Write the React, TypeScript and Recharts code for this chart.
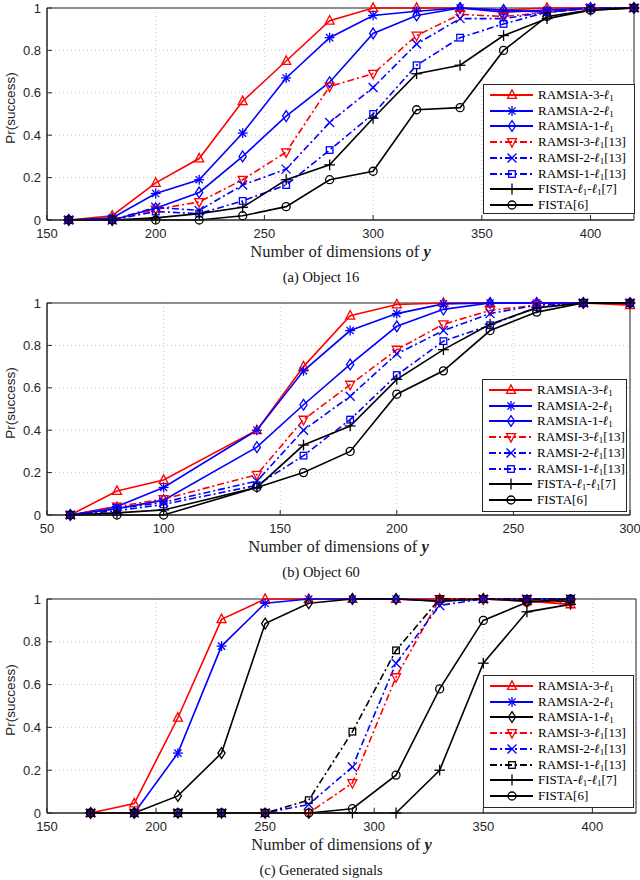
import React from 'react';
import { LineChart, Line, XAxis, YAxis, CartesianGrid, ReferenceArea } from 'recharts';

// ---- (a) Object 16 ----
const obj16Dims = [160, 180, 200, 220, 240, 260, 280, 300, 320, 340, 360, 380, 400, 420];
const obj16Ramsia3 = [0, 0.02, 0.175, 0.29, 0.56, 0.75, 0.94, 1, 1, 1, 0.99, 1, 1, 1];
const obj16Ramsia2 = [0, 0.01, 0.125, 0.19, 0.41, 0.67, 0.86, 0.965, 0.985, 1, 0.98, 0.99, 1, 1];
const obj16Ramsia1 = [0, 0, 0.055, 0.13, 0.3, 0.49, 0.65, 0.88, 0.965, 1, 0.99, 0.98, 1, 1];
const obj16Ramsi3 = [0, 0, 0.05, 0.085, 0.19, 0.32, 0.63, 0.69, 0.87, 0.97, 0.96, 0.98, 1, 1];
const obj16Ramsi2 = [0, 0, 0.06, 0.045, 0.165, 0.24, 0.46, 0.625, 0.83, 0.95, 0.95, 0.98, 1, 1];
const obj16Ramsi1 = [0, 0, 0.04, 0.03, 0.09, 0.165, 0.33, 0.5, 0.73, 0.86, 0.925, 0.98, 1, 1];
const obj16FistaL1 = [0, 0, 0.01, 0.03, 0.06, 0.19, 0.26, 0.48, 0.69, 0.73, 0.87, 0.95, 0.99, 1];
const obj16Fista = [0, 0, 0, 0, 0.02, 0.063, 0.19, 0.23, 0.52, 0.53, 0.8, 0.96, 0.99, 1];

// ---- (b) Object 60 ----
const obj60Dims = [60, 80, 100, 140, 160, 180, 200, 220, 240, 260, 280, 300];
const obj60Ramsia3 = [0, 0.113, 0.165, 0.4, 0.7, 0.94, 0.993, 1, 1, 1, 1, 0.99];
const obj60Ramsia2 = [0, 0.04, 0.13, 0.4, 0.68, 0.87, 0.95, 0.996, 1, 1, 1, 1];
const obj60Ramsia1 = [0, 0.03, 0.07, 0.32, 0.52, 0.71, 0.89, 0.97, 1, 1, 1, 1];
const obj60Ramsi3 = [0, 0.04, 0.075, 0.19, 0.45, 0.615, 0.78, 0.9, 0.965, 0.99, 1, 1];
const obj60Ramsi2 = [0, 0.03, 0.06, 0.16, 0.4, 0.56, 0.76, 0.87, 0.95, 0.99, 1, 1];
const obj60Ramsi1 = [0, 0.02, 0.05, 0.14, 0.28, 0.45, 0.66, 0.82, 0.895, 0.98, 1, 1];
const obj60FistaL1 = [0, 0.01, 0.024, 0.13, 0.33, 0.42, 0.64, 0.78, 0.9, 0.977, 1, 1];
const obj60Fista = [0, 0, 0, 0.13, 0.2, 0.3, 0.57, 0.68, 0.87, 0.957, 1, 1];

// ---- (c) Generated signals ----
const genDims = [170, 190, 210, 230, 250, 270, 290, 310, 330, 350, 370, 390];
const genRamsia3 = [0, 0.044, 0.445, 0.905, 1, 1, 1, 1, 1, 1, 0.99, 0.975];
const genRamsia2 = [0, 0, 0.28, 0.78, 0.98, 1, 1, 1, 0.99, 1, 1, 1];
const genRamsia1 = [0, 0, 0.08, 0.28, 0.885, 0.98, 1, 1, 0.99, 1, 0.99, 0.99];
const genRamsi3 = [0, 0, 0, 0, 0, 0, 0.14, 0.635, 1, 1, 1, 0.98];
const genRamsi2 = [0, 0, 0, 0, 0, 0.04, 0.215, 0.7, 0.97, 1, 1, 1];
const genRamsi1 = [0, 0, 0, 0, 0, 0.06, 0.38, 0.76, 1, 1, 1, 1];
const genFistaL1 = [0, 0, 0, 0, 0, 0, 0, 0, 0.2, 0.7, 0.94, 0.975];
const genFista = [0, 0, 0, 0, 0, 0, 0.02, 0.177, 0.58, 0.9, 0.985, 1];

const xTicksA = [150, 200, 250, 300, 350, 400];
const xTicksB = [50, 100, 150, 200, 250, 300];
const yTicks = [0, 0.2, 0.4, 0.6, 0.8, 1];

const RED = '#ff0000';
const BLUE = '#0000ff';
const BLACK = '#000000';
const AXIS = '#262626';
const DASHDOT = '7 3 2 3';

type Kind = 'tri' | 'star' | 'diamond' | 'down' | 'x' | 'square' | 'plus' | 'circle';

interface Series {
  name: string;
  values: number[];
  color: string;
  dashed: boolean;
  marker: Kind;
}

const seriesFor = (v: number[][], ramsia1Color: string, ramsi1Color: string): Series[] => [
  { name: 'RAMSIA-3-ℓ1', values: v[0], color: RED, dashed: false, marker: 'tri' },
  { name: 'RAMSIA-2-ℓ1', values: v[1], color: BLUE, dashed: false, marker: 'star' },
  { name: 'RAMSIA-1-ℓ1', values: v[2], color: ramsia1Color, dashed: false, marker: 'diamond' },
  { name: 'RAMSI-3-ℓ1[13]', values: v[3], color: RED, dashed: true, marker: 'down' },
  { name: 'RAMSI-2-ℓ1[13]', values: v[4], color: BLUE, dashed: true, marker: 'x' },
  { name: 'RAMSI-1-ℓ1[13]', values: v[5], color: ramsi1Color, dashed: true, marker: 'square' },
  { name: 'FISTA-ℓ1-ℓ1[7]', values: v[6], color: BLACK, dashed: false, marker: 'plus' },
  { name: 'FISTA[6]', values: v[7], color: BLACK, dashed: false, marker: 'circle' },
];

const seriesA = seriesFor(
  [obj16Ramsia3, obj16Ramsia2, obj16Ramsia1, obj16Ramsi3, obj16Ramsi2, obj16Ramsi1, obj16FistaL1, obj16Fista],
  BLUE,
  BLUE,
);
const seriesB = seriesFor(
  [obj60Ramsia3, obj60Ramsia2, obj60Ramsia1, obj60Ramsi3, obj60Ramsi2, obj60Ramsi1, obj60FistaL1, obj60Fista],
  BLUE,
  BLUE,
);
const seriesC = seriesFor(
  [genRamsia3, genRamsia2, genRamsia1, genRamsi3, genRamsi2, genRamsi1, genFistaL1, genFista],
  BLACK,
  BLACK,
);

const Marker = ({ kind, cx, cy, color }: { kind: Kind; cx: number; cy: number; color: string }) => {
  const s = 4.5;
  const common = { fill: 'none', stroke: color, strokeWidth: 1.3 };
  switch (kind) {
    case 'tri':
      return <polygon {...common} points={`${cx},${cy - s * 1.15} ${cx - s},${cy + s * 0.75} ${cx + s},${cy + s * 0.75}`} />;
    case 'down':
      return <polygon {...common} points={`${cx},${cy + s * 1.15} ${cx - s},${cy - s * 0.75} ${cx + s},${cy - s * 0.75}`} />;
    case 'diamond':
      return <polygon {...common} points={`${cx},${cy - s * 1.2} ${cx + s * 0.8},${cy} ${cx},${cy + s * 1.2} ${cx - s * 0.8},${cy}`} />;
    case 'square':
      return <rect {...common} x={cx - 3.3} y={cy - 3.3} width={6.6} height={6.6} />;
    case 'circle':
      return <circle {...common} cx={cx} cy={cy} r={4} />;
    case 'x':
      return (
        <g {...common}>
          <line x1={cx - s} y1={cy - s} x2={cx + s} y2={cy + s} />
          <line x1={cx - s} y1={cy + s} x2={cx + s} y2={cy - s} />
        </g>
      );
    case 'plus':
      return (
        <g {...common}>
          <line x1={cx - s * 1.2} y1={cy} x2={cx + s * 1.2} y2={cy} />
          <line x1={cx} y1={cy - s * 1.2} x2={cx} y2={cy + s * 1.2} />
        </g>
      );
    case 'star':
    default:
      return (
        <g {...common}>
          <line x1={cx - s * 1.1} y1={cy} x2={cx + s * 1.1} y2={cy} />
          <line x1={cx} y1={cy - s * 1.1} x2={cx} y2={cy + s * 1.1} />
          <line x1={cx - s * 0.8} y1={cy - s * 0.8} x2={cx + s * 0.8} y2={cy + s * 0.8} />
          <line x1={cx - s * 0.8} y1={cy + s * 0.8} x2={cx + s * 0.8} y2={cy - s * 0.8} />
        </g>
      );
  }
};

const Label = ({ text }: { text: string }) => {
  const parts = text.split('ℓ1');
  return (
    <span>
      {parts.map((p, i) => (
        <React.Fragment key={i}>
          {p}
          {i < parts.length - 1 && (
            <span>
              <i>ℓ</i>
              <sub style={{ fontSize: 9, verticalAlign: -2 }}>1</sub>
            </span>
          )}
        </React.Fragment>
      ))}
    </span>
  );
};

const LegendBox = ({ series, left, top, width, height }: { series: Series[]; left: number; top: number; width: number; height: number }) => (
  <div
    style={{
      position: 'absolute',
      left,
      top,
      width,
      height,
      boxSizing: 'border-box',
      border: `1px solid ${AXIS}`,
      background: '#fff',
      padding: '2px 0',
      fontFamily: '"Liberation Serif", serif',
      fontSize: 13,
      color: '#000',
    }}
  >
    {series.map((s) => (
      <div key={s.name} style={{ height: 15.75, display: 'flex', alignItems: 'center', whiteSpace: 'nowrap' }}>
        <svg width={54} height={14} style={{ flex: 'none' }}>
          <line x1={6} y1={7} x2={49} y2={7} stroke={s.color} strokeWidth={1.8} strokeDasharray={s.dashed ? DASHDOT : undefined} />
          <Marker kind={s.marker} cx={28} cy={7} color={s.color} />
        </svg>
        <Label text={s.name} />
      </div>
    ))}
  </div>
);

interface PanelProps {
  top: number;
  plotHeight: number;
  marginRight: number;
  dims: number[];
  series: Series[];
  xDomain: [number, number];
  xTicks: number[];
  caption: string;
  legend: { left: number; top: number; width: number; height: number };
}

const Panel = ({ top, plotHeight, marginRight, dims, series, xDomain, xTicks, caption, legend }: PanelProps) => {
  const rows = dims.map((d, i) => {
    const row: Record<string, number> = { x: d };
    series.forEach((s, k) => {
      row[`s${k}`] = s.values[i];
    });
    return row;
  });
  const chartH = 8 + plotHeight + 30;
  const plotBottom = top + 8 + plotHeight;
  const plotLeft = 47;
  const plotRight = 640 - marginRight;
  const midX = (plotLeft + plotRight) / 2;
  return (
    <>
      <div style={{ position: 'absolute', left: 0, top }}>
        <LineChart width={640} height={chartH} data={rows} margin={{ top: 8, right: marginRight, left: 0, bottom: 0 }}>
          <CartesianGrid stroke="#c8c8c8" strokeDasharray="1 3" />
          <XAxis
            dataKey="x"
            type="number"
            domain={xDomain}
            ticks={xTicks}
            interval={0}
            height={30}
            stroke={AXIS}
            tickSize={-5}
            tickMargin={14}
            tick={{ fontSize: 13, fill: AXIS, fontFamily: '"Liberation Sans", sans-serif' }}
          />
          <YAxis
            type="number"
            domain={[0, 1]}
            ticks={yTicks}
            interval={0}
            width={47}
            stroke={AXIS}
            tickSize={-5}
            tickMargin={11}
            tick={{ fontSize: 13, fill: AXIS, fontFamily: '"Liberation Sans", sans-serif' }}
          />
          <ReferenceArea x1={xDomain[0]} x2={xDomain[1]} y1={0} y2={1} fill="none" stroke={AXIS} strokeWidth={1} ifOverflow="visible" />
          {series.map((s, k) => (
            <Line
              key={s.name}
              dataKey={`s${k}`}
              stroke={s.color}
              strokeWidth={1.6}
              strokeDasharray={s.dashed ? DASHDOT : undefined}
              isAnimationActive={false}
              dot={(p: any) => <Marker key={`${k}-${p.index}`} kind={s.marker} cx={p.cx} cy={p.cy} color={s.color} />}
              activeDot={false}
            />
          ))}
        </LineChart>
      </div>
      <div
        style={{
          position: 'absolute',
          left: 10,
          top: top + 8 + plotHeight / 2 - 6,
          transform: 'translate(-50%, -50%) rotate(-90deg)',
          fontFamily: '"Liberation Sans", sans-serif',
          fontSize: 13.5,
          color: AXIS,
          whiteSpace: 'nowrap',
        }}
      >
        Pr(success)
      </div>
      <div
        style={{
          position: 'absolute',
          left: midX,
          top: plotBottom + 32,
          transform: 'translate(-50%, -50%)',
          fontFamily: '"Liberation Serif", serif',
          fontSize: 16.5,
          color: '#222',
          whiteSpace: 'nowrap',
        }}
      >
        Number of dimensions of <b><i>y</i></b>
      </div>
      <div
        style={{
          position: 'absolute',
          left: 321,
          top: plotBottom + 57,
          transform: 'translate(-50%, -50%)',
          fontFamily: '"Liberation Serif", serif',
          fontSize: 14.5,
          color: '#111',
          whiteSpace: 'nowrap',
        }}
      >
        {caption}
      </div>
      <LegendBox series={series} {...legend} />
    </>
  );
};

export default function App() {
  return (
    <div style={{ position: 'absolute', left: 0, top: 0, width: 640, height: 880, background: '#fff', overflow: 'hidden' }}>
      <Panel
        top={0}
        plotHeight={212}
        marginRight={6}
        dims={obj16Dims}
        series={seriesA}
        xDomain={[150, 420]}
        xTicks={xTicksA}
        caption="(a) Object 16"
        legend={{ left: 483, top: 84, width: 152, height: 130 }}
      />
      <Panel
        top={295}
        plotHeight={212}
        marginRight={10}
        dims={obj60Dims}
        series={seriesB}
        xDomain={[50, 300]}
        xTicks={xTicksB}
        caption="(b) Object 60"
        legend={{ left: 482, top: 379, width: 145, height: 133 }}
      />
      <Panel
        top={591}
        plotHeight={214}
        marginRight={4}
        dims={genDims}
        series={seriesC}
        xDomain={[150, 420]}
        xTicks={xTicksA}
        caption="(c) Generated signals"
        legend={{ left: 483, top: 675, width: 151, height: 133 }}
      />
    </div>
  );
}
